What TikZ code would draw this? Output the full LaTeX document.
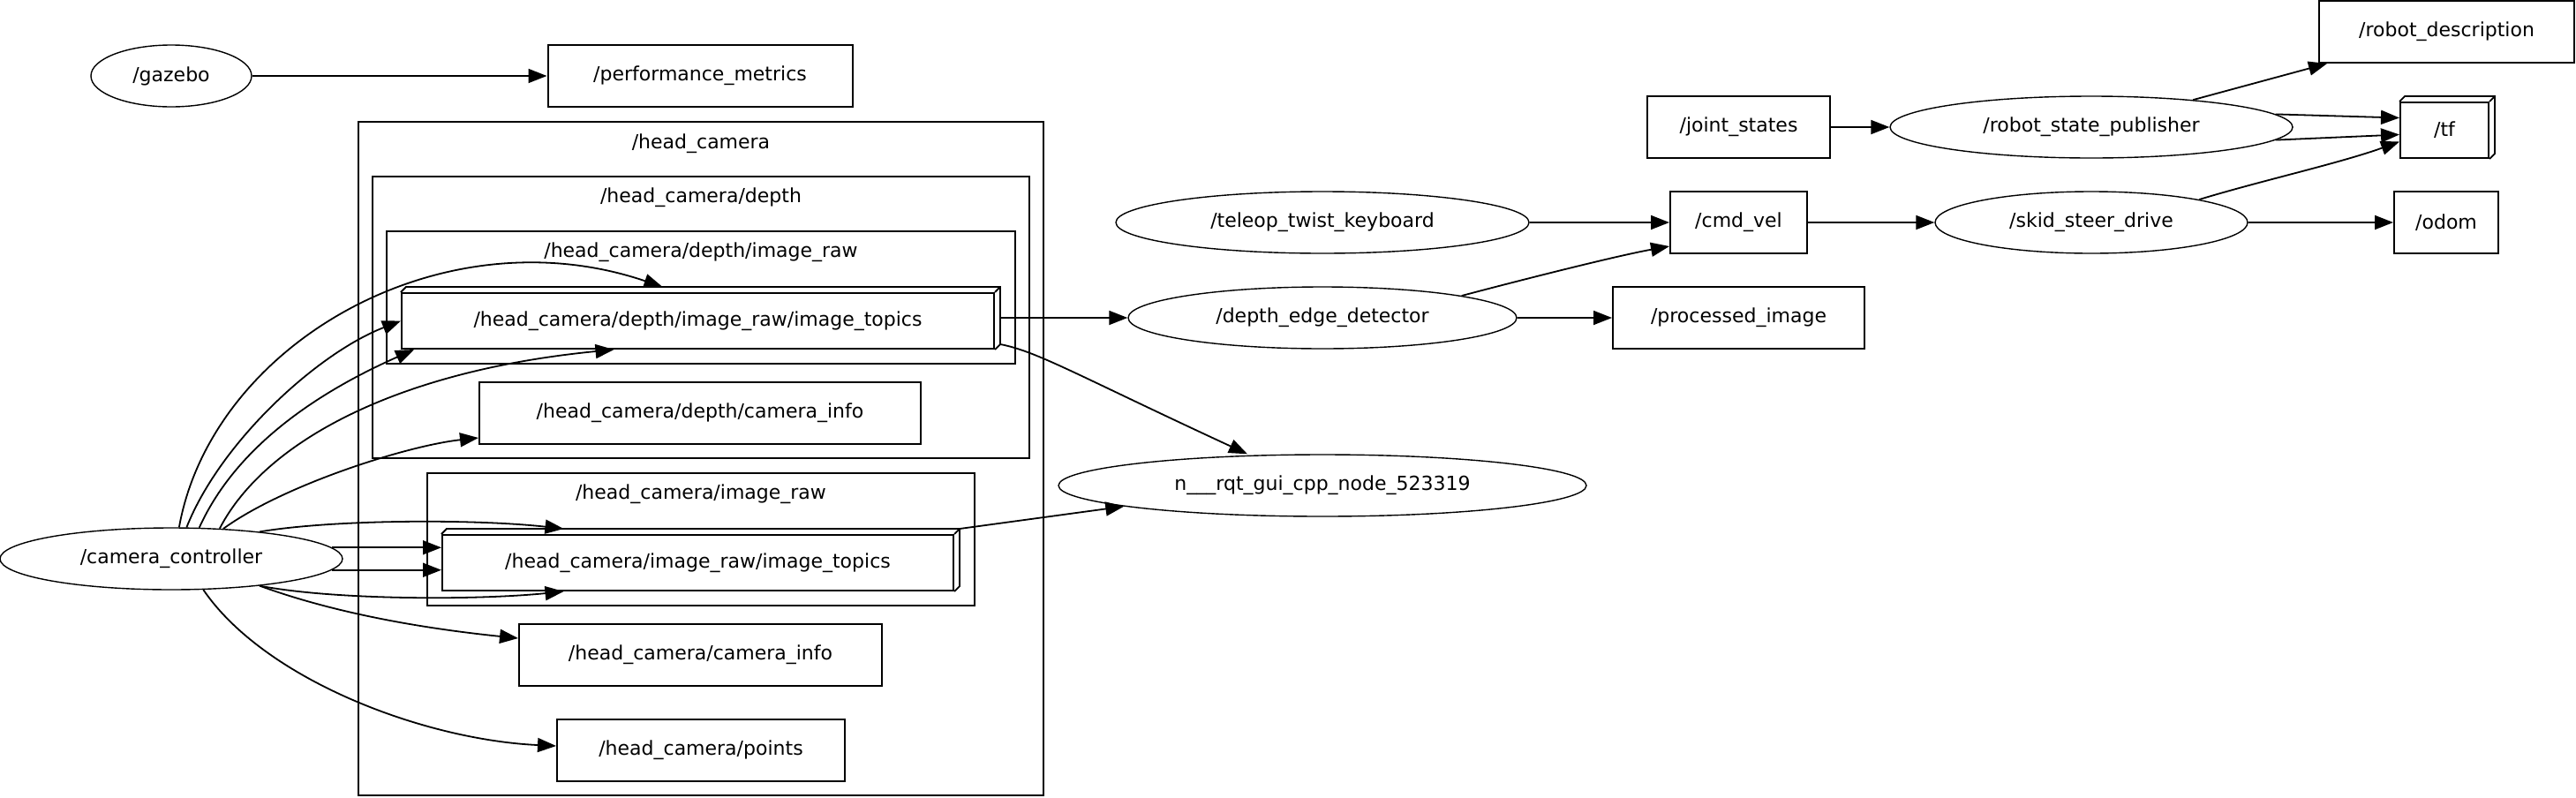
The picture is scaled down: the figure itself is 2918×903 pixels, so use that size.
\documentclass[tikz,border=0pt]{standalone}
\usepackage{fontspec}
\setmainfont{DejaVu Sans}
\usepackage{tikz}
\usetikzlibrary{arrows.meta, calc, shapes.geometric}
\newcommand{\topicdepth}[1]{%
  \draw[grp] (#1.north west) -- ++(6,-6) -| ($(#1.south east)+(6,-6)$) -- (#1.south east);
  \draw[grp] (#1.north east) -- ++(6,-6);}
\tikzset{
  rosnode/.style ={draw, ellipse, minimum height=70pt, inner sep=0pt, line width=1.4pt},
  topic/.style   ={draw, rectangle, minimum height=70pt, inner sep=0pt, line width=2pt},
  topicd/.style  ={topic, minimum height=63pt},                 % box3d topic, front face
  grp/.style     ={line width=1.8pt},
  glbl/.style    ={inner sep=0pt},
  pub/.style     ={-{Triangle[length=21pt, width=16pt]}, line width=1.8pt},
}

\begin{document}
\begin{tikzpicture}[x=1pt, y=-1pt, font=\fontsize{22pt}{26pt}\selectfont]
  \useasboundingbox (0,0) rectangle (2918,903);
  % groups
  \draw[grp] (406,138) rectangle (1182,901);
  \draw[grp] (422,200) rectangle (1166,519);
  \draw[grp] (438,262) rectangle (1150,412);
  \draw[grp] (484,536) rectangle (1104,686);
  \node[glbl] (hclbl)  at (794,163) {/head\_camera};
  \node[glbl] (dlbl)   at (794,224) {/head\_camera/depth};
  \node[glbl] (dirlbl) at (794,286) {/head\_camera/depth/image\_raw};
  \node[glbl] (irlbl)  at (794,560) {/head\_camera/image\_raw};

  \node[rosnode, minimum width=182pt] (gz)  at (194,86)  {/gazebo};
  \node[topic,   minimum width=345pt] (pm)  at (793,86)  {/performance\_metrics};
  \node[rosnode, minimum width=388pt] (cc)  at (194,633) {/camera\_controller};
  \node[topicd,  minimum width=671pt] (dit) at (790.5,363.5) {/head\_camera/depth/image\_raw/image\_topics};
  \node[topic,   minimum width=500pt] (dci) at (793,468) {/head\_camera/depth/camera\_info};
  \node[topicd,  minimum width=579pt] (iit) at (790.5,637.5) {/head\_camera/image\_raw/image\_topics};
  \node[topic,   minimum width=411pt] (ci)  at (793.5,742) {/head\_camera/camera\_info};
  \node[topic,   minimum width=326pt] (pts) at (794,850) {/head\_camera/points};
  \topicdepth{dit}
  \topicdepth{iit}

  \node[rosnode, minimum width=468pt] (tk)  at (1498,252) {/teleop\_twist\_keyboard};
  \node[rosnode, minimum width=440pt] (ded) at (1498,360) {/depth\_edge\_detector};
  \node[rosnode, minimum width=598pt] (rqt) at (1498,550) {n\_\_\_rqt\_gui\_cpp\_node\_523319};
  \node[topic,   minimum width=207pt] (js)  at (1969.5,144) {/joint\_states};
  \node[topic,   minimum width=155pt] (cv)  at (1969.5,252) {/cmd\_vel};
  \node[topic,   minimum width=285pt] (pi)  at (1969.5,360) {/processed\_image};
  \node[rosnode, minimum width=456pt] (rsp) at (2369,144) {/robot\_state\_publisher};
  \node[rosnode, minimum width=354pt] (ssd) at (2369,252) {/skid\_steer\_drive};
  \node[topic,   minimum width=289pt] (rd)  at (2771.5,36) {/robot\_description};
  \node[topicd,  minimum width=100pt] (tf)  at (2769,147.5) {/tf};
  \node[topic,   minimum width=118pt] (odom) at (2771,252) {/odom};
  \topicdepth{tf}

  \draw[pub] (gz) -- (pm);
  % camera_controller fan-out
  \draw[pub] (cc.76) .. controls (240,390) and (500,240) .. ([xshift=-40pt,yshift=6pt]dit.north);
  \draw[pub] (cc.64) .. controls (250,500) and (360,400) .. (dit.west);
  \draw[pub] (cc.48) .. controls (270,500) and (370,440) .. ([xshift=15pt]dit.south west);
  \draw[pub] (cc.32) .. controls (300,500) and (450,420) .. ([xshift=-95pt]dit.south);
  \draw[pub] (cc.30) .. controls (320,550) and (460,505) .. ([yshift=8pt]dci.south west);
  \draw[pub] (cc.17) .. controls (380,588) and (540,588) .. ([xshift=-152pt,yshift=6pt]iit.north);
  \draw[pub] (cc.4) -- (cc.4 -| iit.west);
  \draw[pub] (cc.-4) -- (cc.-4 -| iit.west);
  \draw[pub] (cc.-17) .. controls (380,680) and (540,680) .. ([xshift=-152pt]iit.south);
  \draw[pub] (cc.-17) .. controls (380,695) and (480,712) .. ([yshift=19pt]ci.west);
  \draw[pub] (cc.-44) .. controls (300,770) and (480,838) .. ([yshift=5pt]pts.west);

  \draw[pub] ($(dit.east |- ded.west)+(6,0)$) -- (ded.west);
  \draw[pub] ([xshift=6pt,yshift=6pt]dit.south east) .. controls (1175,398) and (1220,425) .. ([xshift=-85pt]rqt.north);
  \draw[pub] ([xshift=6pt,yshift=6pt]iit.north east) -- (rqt.186);
  \draw[pub] (tk) -- (cv);
  \draw[pub] (ded.9) .. controls (1720,318) and (1830,290) .. ([yshift=9pt]cv.south west);
  \draw[pub] (ded) -- (pi);
  \draw[pub] (js) -- (rsp);
  \draw[pub] (cv) -- (ssd);
  \draw[pub] (ssd) -- (odom);
  \draw[pub] (rsp.15) -- ([xshift=10pt]rd.south west);
  \draw[pub] (rsp.4) -- ([yshift=14pt]tf.west);
  \draw[pub] (rsp.-4) -- ([yshift=-5pt]tf.west);
  \draw[pub] (ssd.12) .. controls (2560,205) and (2650,185) .. ([yshift=-13pt]tf.west);
\end{tikzpicture}
\end{document}
